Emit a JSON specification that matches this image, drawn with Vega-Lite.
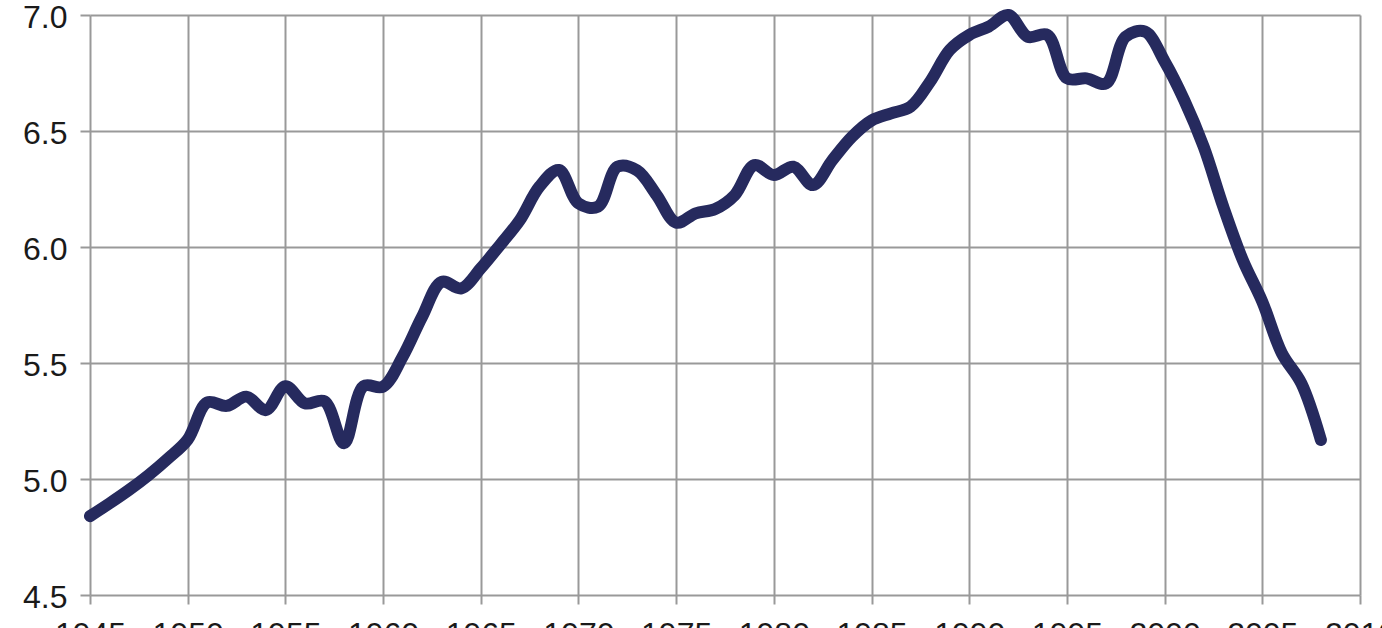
{
  "$schema": "https://vega.github.io/schema/vega-lite/v6.json",
  "autosize": {"type": "none"},
  "width": 1270,
  "height": 580,
  "padding": {"left": 90, "top": 15, "right": 22, "bottom": 33},
  "background": "white",
  "config": {
    "view": {"stroke": null},
    "axis": {
      "labelFont": "Liberation Sans",
      "labelFontSize": 32,
      "labelColor": "#1a1a1a",
      "gridColor": "#999999",
      "gridWidth": 2,
      "gridOpacity": 1,
      "tickColor": "#999999",
      "tickWidth": 2,
      "domain": false
    }
  },
  "data": {
    "values": [
      {"year": 1945, "value": 4.84},
      {"year": 1946, "value": 4.895},
      {"year": 1947, "value": 4.953},
      {"year": 1948, "value": 5.017},
      {"year": 1949, "value": 5.089},
      {"year": 1950, "value": 5.17},
      {"year": 1951, "value": 5.33},
      {"year": 1952, "value": 5.315},
      {"year": 1953, "value": 5.355},
      {"year": 1954, "value": 5.297},
      {"year": 1955, "value": 5.4},
      {"year": 1956, "value": 5.326},
      {"year": 1957, "value": 5.335},
      {"year": 1958, "value": 5.154},
      {"year": 1959, "value": 5.4},
      {"year": 1960, "value": 5.398},
      {"year": 1961, "value": 5.527},
      {"year": 1962, "value": 5.7},
      {"year": 1963, "value": 5.85},
      {"year": 1964, "value": 5.822},
      {"year": 1965, "value": 5.908},
      {"year": 1966, "value": 6.01},
      {"year": 1967, "value": 6.116},
      {"year": 1968, "value": 6.26},
      {"year": 1969, "value": 6.332},
      {"year": 1970, "value": 6.188},
      {"year": 1971, "value": 6.174},
      {"year": 1972, "value": 6.346},
      {"year": 1973, "value": 6.33},
      {"year": 1974, "value": 6.224},
      {"year": 1975, "value": 6.105},
      {"year": 1976, "value": 6.145},
      {"year": 1977, "value": 6.164},
      {"year": 1978, "value": 6.224},
      {"year": 1979, "value": 6.353},
      {"year": 1980, "value": 6.31},
      {"year": 1981, "value": 6.346},
      {"year": 1982, "value": 6.267},
      {"year": 1983, "value": 6.375},
      {"year": 1984, "value": 6.475},
      {"year": 1985, "value": 6.545},
      {"year": 1986, "value": 6.576},
      {"year": 1987, "value": 6.605},
      {"year": 1988, "value": 6.713},
      {"year": 1989, "value": 6.849},
      {"year": 1990, "value": 6.914},
      {"year": 1991, "value": 6.95},
      {"year": 1992, "value": 7.0},
      {"year": 1993, "value": 6.906},
      {"year": 1994, "value": 6.914},
      {"year": 1995, "value": 6.727},
      {"year": 1996, "value": 6.727},
      {"year": 1997, "value": 6.705},
      {"year": 1998, "value": 6.906},
      {"year": 1999, "value": 6.928},
      {"year": 2000, "value": 6.8},
      {"year": 2001, "value": 6.634},
      {"year": 2002, "value": 6.432},
      {"year": 2003, "value": 6.174},
      {"year": 2004, "value": 5.944},
      {"year": 2005, "value": 5.764},
      {"year": 2006, "value": 5.542},
      {"year": 2007, "value": 5.412},
      {"year": 2008, "value": 5.168}
    ]
  },
  "mark": {
    "type": "line",
    "interpolate": "catmull-rom",
    "color": "#262a5e",
    "strokeWidth": 12,
    "strokeCap": "round",
    "strokeJoin": "round",
    "clip": false
  },
  "encoding": {
    "x": {
      "field": "year",
      "type": "quantitative",
      "scale": {"domain": [1945, 2010], "nice": false, "zero": false},
      "axis": {
        "title": null,
        "values": [1945, 1950, 1955, 1960, 1965, 1970, 1975, 1980, 1985, 1990, 1995, 2000, 2005, 2010],
        "format": "d",
        "tickSize": 9,
        "labelPadding": 15,
        "labelFlush": false,
        "labelOverlap": false
      }
    },
    "y": {
      "field": "value",
      "type": "quantitative",
      "scale": {"domain": [4.5, 7.0], "nice": false, "zero": false},
      "axis": {
        "title": null,
        "values": [4.5, 5.0, 5.5, 6.0, 6.5, 7.0],
        "format": ".1f",
        "tickSize": 10,
        "labelPadding": 13,
        "labelFlush": false,
        "labelOverlap": false,
        "labelOffset": 2
      }
    }
  }
}
